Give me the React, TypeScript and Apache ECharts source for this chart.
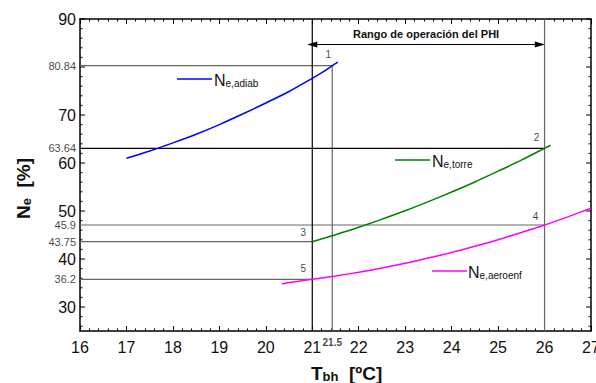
import React, { useEffect, useRef } from "react";
import * as echarts from "echarts";

// ---- data ----
const adiabX = [17.0, 17.5, 18.0, 18.5, 19.0, 19.5, 20.0, 20.5, 21.0, 21.25, 21.43, 21.55];
const adiabY = [61.0, 62.5, 64.2, 66.0, 68.0, 70.2, 72.5, 74.9, 77.65, 79.1, 80.27, 81.0];

const torreX = [21.0, 21.5, 22.0, 22.5, 23.0, 23.5, 24.0, 24.5, 25.0, 25.5, 26.0, 26.13];
const torreY = [43.6, 45.05, 46.6, 48.3, 50.05, 51.95, 53.95, 56.05, 58.3, 60.6, 63.06, 63.7];

const aeroX = [20.35, 20.5, 21.0, 21.5, 22.0, 22.5, 23.0, 23.5, 24.0, 24.5, 25.0, 25.5, 26.0, 26.5, 27.0];
const aeroY = [34.8, 35.1, 35.77, 36.47, 37.25, 38.13, 39.1, 40.19, 41.36, 42.65, 44.03, 45.52, 47.08, 48.78, 50.58];

// operating points 1..5 and their printed values
const pointNames = ["1", "2", "3", "4", "5"];
const pointX = [21.43, 26.0, 21.0, 26.0, 21.0];
const pointY = [80.27, 63.06, 43.6, 47.08, 35.77];
const pointValueLabels = ["80.84", "63.64", "43.75", "45.9", "36.2"];

const rangeStart = 21.0;
const rangeEnd = 25.9;
const rangeLevel = 84.7;
const rangeText = "Rango de operación del PHI";
const x215Label = "21.5";

const yAxisLabels = [30, 40, 50, 60, 70, 90];

const xMin = 16, xMax = 27, yMin = 25, yMax = 90;
const yTickValues = [26, 28, 30, 32, 34, 36, 38, 40, 42, 44, 46, 48, 50, 52, 54, 56, 58, 60, 62, 64, 66, 68, 70, 72, 74, 76, 78, 80, 82, 84, 86, 88, 90];

const FONT = "'Liberation Sans', Arial, Helvetica, sans-serif";

const zip = (a: number[], b: number[]) => a.map((v, i) => [v, b[i]]);

export default function App() {
  const ref = useRef<HTMLDivElement>(null);
  useEffect(() => {
    if (!ref.current) return;
    const chart = echarts.init(ref.current, null, { renderer: "svg" });
    const gray = "#666666";
    const refLine = (data: number[][], color: string) => ({
      type: "line",
      data,
      showSymbol: false,
      symbol: "none",
      lineStyle: { color, width: 1.2 },
      silent: true,
      z: 2,
    });
    const axisCommon = {
      type: "value",
      min: xMin,
      max: xMax,
      interval: 1,
      axisLine: { show: true, lineStyle: { color: "#000", width: 1.5 } },
      axisTick: { show: true, inside: true, length: 5, lineStyle: { color: "#000", width: 1 } },
      minorTick: { show: true, splitNumber: 5, length: 2.5, lineStyle: { color: "#000", width: 1 } },
      splitLine: { show: false },
    };
    const option: any = {
      animation: false,
      grid: { left: 80, right: 5, top: 19, bottom: 52, containLabel: false, outerBoundsMode: "none" },
      xAxis: [
        {
          ...axisCommon,
          position: "bottom",
          axisLabel: { fontFamily: FONT, fontSize: 16, color: "#111", margin: 8, showMinLabel: true, showMaxLabel: true, hideOverlap: false },
        },
        {
          ...axisCommon,
          position: "top",
          axisLabel: { show: false },
        },
      ],
      yAxis: [
        {
          type: "value",
          min: yMin,
          max: yMax,
          interval: 5,
          position: "left",
          axisLine: { show: true, lineStyle: { color: "#000", width: 1.5 } },
          axisTick: { show: false },
          splitLine: { show: false },
          axisLabel: {
            fontFamily: FONT,
            fontSize: 16,
            color: "#111",
            margin: 4,
            formatter: (v: number) => (yAxisLabels.indexOf(v) >= 0 ? String(v) : ""),
          },
        },
        {
          type: "value",
          min: yMin,
          max: yMax,
          interval: 5,
          position: "right",
          axisLine: { show: true, lineStyle: { color: "#000", width: 1.5 } },
          axisTick: { show: false },
          splitLine: { show: false },
          axisLabel: { show: false },
        },
      ],
      series: [
        // reference lines
        refLine([[xMin, pointY[0]], [pointX[0], pointY[0]], [pointX[0], yMin]], gray),
        refLine([[xMin, pointY[1]], [pointX[1], pointY[1]]], "#000"),
        refLine([[xMin, pointY[3]], [pointX[3], pointY[3]]], gray),
        refLine([[xMin, pointY[2]], [pointX[2], pointY[2]]], gray),
        refLine([[xMin, pointY[4]], [pointX[4], pointY[4]]], gray),
        refLine([[rangeStart, yMin], [rangeStart, yMax]], "#000"),
        refLine([[pointX[1], yMin], [pointX[1], yMax]], gray),
        // curves
        {
          type: "line",
          data: zip(adiabX, adiabY),
          showSymbol: false,
          symbol: "none",
          smooth: 0.3,
          lineStyle: { color: "#0000ff", width: 1.5 },
          z: 5,
        },
        {
          type: "line",
          data: zip(torreX, torreY),
          showSymbol: false,
          symbol: "none",
          smooth: 0.3,
          lineStyle: { color: "#008000", width: 1.5 },
          z: 5,
        },
        {
          type: "line",
          data: zip(aeroX, aeroY),
          showSymbol: false,
          symbol: "none",
          smooth: 0.3,
          lineStyle: { color: "#ff00ff", width: 1.5 },
          z: 5,
        },
        // point numbers
        {
          type: "scatter",
          symbolSize: 0,
          itemStyle: { color: "#111" },
          data: pointX.map((x, i) => ({
            value: [x, pointY[i]],
            label: {
              show: true,
              position: "inside",
              offset: [[-4, -11], [-8, -11], [-9, -9], [-9, -9], [-9, -11]][i],
              formatter: pointNames[i],
              fontFamily: FONT,
              fontSize: 10,
              color: "#111",
            },
          })),
          silent: true,
          z: 6,
        },
        // value labels on left axis
        {
          type: "scatter",
          symbolSize: 0,
          itemStyle: { color: "#111" },
          data: pointY.map((y, i) => ({
            value: [xMin, y],
            label: {
              show: true,
              position: "left",
              distance: 4,
              formatter: pointValueLabels[i],
              fontFamily: FONT,
              fontSize: 11,
              color: "#111",
            },
          })),
          silent: true,
          z: 6,
        },
        // 21.5 label under axis
        {
          type: "scatter",
          symbolSize: 0,
          itemStyle: { color: "#111" },
          data: [[pointX[0], yMin]],
          label: {
            show: true,
            position: "inside",
            offset: [0, 11],
            formatter: x215Label,
            fontFamily: FONT,
            fontSize: 10,
            fontWeight: "bold",
            color: "#111",
          },
          silent: true,
        },
        // operating range arrow
        {
          type: "line",
          data: [],
          markLine: {
            silent: true,
            symbol: ["triangle", "triangle"],
            symbolSize: [6, 10],
            itemStyle: { color: "#000" },
            lineStyle: { color: "#000", width: 1.2, type: "solid" },
            label: {
              show: true,
              position: "insideMiddleTop",
              distance: 5,
              formatter: rangeText,
              fontFamily: FONT,
              fontSize: 11,
              fontWeight: "bold",
              color: "#111",
            },
            data: [[{ coord: [rangeStart, rangeLevel] }, { coord: [rangeEnd, rangeLevel] }]],
          },
        },
        // y-axis ticks (left and right, inward)
        {
          type: "custom",
          data: yTickValues.map((v) => [xMin, v]),
          clip: false,
          silent: true,
          renderItem: (params: any, api: any) => {
            const v = api.value(1);
            const major = v % 10 === 0;
            const len = major ? 5 : 2.5;
            const pL = api.coord([xMin, v]);
            const pR = api.coord([xMax, v]);
            return {
              type: "group",
              children: [
                { type: "line", shape: { x1: pL[0], y1: pL[1], x2: pL[0] + len, y2: pL[1] }, style: { stroke: "#000", lineWidth: 1 } },
                { type: "line", shape: { x1: pR[0], y1: pR[1], x2: pR[0] - len, y2: pR[1] }, style: { stroke: "#000", lineWidth: 1 } },
              ],
            };
          },
        },
      ],
      graphic: [
        // in-plot legends
        { type: "line", shape: { x1: 177, y1: 79, x2: 212, y2: 79 }, style: { stroke: "#0000ff", lineWidth: 1.5 } },
        {
          type: "text", x: 214, y: 72,
          style: {
            text: "{n|N}{s|e,adiab}", fill: "#111",
            rich: {
              n: { fontFamily: FONT, fontSize: 16, lineHeight: 16, verticalAlign: "top", fill: "#111" },
              s: { fontFamily: FONT, fontSize: 10, lineHeight: 10, verticalAlign: "bottom", fill: "#111" },
            },
          },
        },
        { type: "line", shape: { x1: 395, y1: 160, x2: 430, y2: 160 }, style: { stroke: "#008000", lineWidth: 1.5 } },
        {
          type: "text", x: 432, y: 153,
          style: {
            text: "{n|N}{s|e,torre}", fill: "#111",
            rich: {
              n: { fontFamily: FONT, fontSize: 16, lineHeight: 16, verticalAlign: "top", fill: "#111" },
              s: { fontFamily: FONT, fontSize: 10, lineHeight: 10, verticalAlign: "bottom", fill: "#111" },
            },
          },
        },
        { type: "line", shape: { x1: 432, y1: 271, x2: 467, y2: 271 }, style: { stroke: "#ff00ff", lineWidth: 1.5 } },
        {
          type: "text", x: 468, y: 264,
          style: {
            text: "{n|N}{s|e,aeroenf}", fill: "#111",
            rich: {
              n: { fontFamily: FONT, fontSize: 16, lineHeight: 16, verticalAlign: "top", fill: "#111" },
              s: { fontFamily: FONT, fontSize: 10, lineHeight: 10, verticalAlign: "bottom", fill: "#111" },
            },
          },
        },
        // axis titles
        {
          type: "text", x: 311, y: 364,
          style: {
            text: "{n|T}{s|bh}{n|  [ºC]}", fill: "#111",
            rich: {
              n: { fontFamily: FONT, fontSize: 19, fontWeight: "bold", lineHeight: 19, verticalAlign: "top", fill: "#111" },
              s: { fontFamily: FONT, fontSize: 13, fontWeight: "bold", lineHeight: 13, verticalAlign: "bottom", fill: "#111" },
            },
          },
        },
        {
          type: "text", x: 14, y: 219, rotation: Math.PI / 2,
          style: {
            text: "{n|N}{s|e}{n|  [%]}", fill: "#111",
            rich: {
              n: { fontFamily: FONT, fontSize: 19, fontWeight: "bold", lineHeight: 19, verticalAlign: "top", fill: "#111" },
              s: { fontFamily: FONT, fontSize: 13, fontWeight: "bold", lineHeight: 13, verticalAlign: "bottom", fill: "#111" },
            },
          },
        },
      ],
    };
    chart.setOption(option);
    return () => chart.dispose();
  }, []);
  return <div ref={ref} style={{ width: 596, height: 383, position: "absolute", left: 0, top: 0 }} />;
}
